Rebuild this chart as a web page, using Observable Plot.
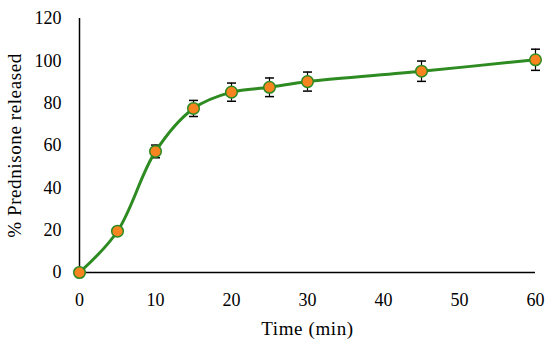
<!DOCTYPE html>
<html>
<head>
<meta charset="utf-8">
<script src="https://cdn.jsdelivr.net/npm/d3@7"></script>
<script src="https://cdn.jsdelivr.net/npm/@observablehq/plot@0.6"></script>
<style>
  html, body { margin: 0; padding: 0; background: #fff; }
  #chart { width: 550px; height: 349px; }
  #chart svg [aria-label="x-axis label"] text,
  #chart svg [aria-label="y-axis label"] text { font-size: 19px; letter-spacing: 0.6px; }
</style>
</head>
<body>
<div id="chart"></div>
<script>
const time = [0, 5, 10, 15, 20, 25, 30, 45, 60];
const released = [0, 19.5, 57.2, 77.5, 85.2, 87.5, 90.2, 95.1, 100.5];
const errors = [0, 0, 3.0, 3.8, 4.3, 4.4, 4.5, 4.8, 5.0];
const xTicks = [0, 10, 20, 30, 40, 50, 60];
const yTicks = [0, 20, 40, 60, 80, 100, 120];

const data = time.map((t, i) => ({t, v: released[i], e: errors[i], lo: released[i] - errors[i], hi: released[i] + errors[i]}));
const bars = data.filter(d => d.e > 0);
const caps = bars.flatMap(d => [{t: d.t, y: d.lo}, {t: d.t, y: d.hi}]);

const capSymbol = {
  draw(context, size) {
    const w = 4.5;
    context.moveTo(-w, 0);
    context.lineTo(w, 0);
  }
};

const chart = Plot.plot({
  width: 550,
  height: 349,
  marginLeft: 79,
  marginRight: 15,
  marginTop: 18,
  marginBottom: 77,
  style: {fontFamily: "'Liberation Serif', serif", fontSize: "18px", color: "#000", background: "#fff"},
  x: {type: "linear", domain: [0, 60], ticks: xTicks, tickSize: 0, tickPadding: 21, label: "Time (min)", labelAnchor: "center", labelArrow: "none", labelOffset: 62},
  y: {type: "linear", domain: [0, 120], ticks: yTicks, tickSize: 0, tickPadding: 18, label: "% Prednisone released", labelAnchor: "center", labelArrow: "none", labelOffset: 72},
  marks: [
    Plot.ruleX([0], {stroke: "#000", strokeWidth: 1.5}),
    Plot.ruleY([0], {stroke: "#000", strokeWidth: 1.5}),
    Plot.ruleX(bars, {x: "t", y1: "lo", y2: "hi", stroke: "#000", strokeWidth: 1.2}),
    Plot.dot(caps, {x: "t", y: "y", symbol: capSymbol, r: 4, fill: "none", stroke: "#000", strokeWidth: 1.5}),
    Plot.line(data, {x: "t", y: "v", stroke: "#2e8b22", strokeWidth: 3, curve: "catmull-rom"}),
    Plot.dot(data, {x: "t", y: "v", r: 5.8, fill: "#f7841f", stroke: "#2e8b22", strokeWidth: 1.5})
  ]
});

document.getElementById("chart").appendChild(chart);
</script>
</body>
</html>
